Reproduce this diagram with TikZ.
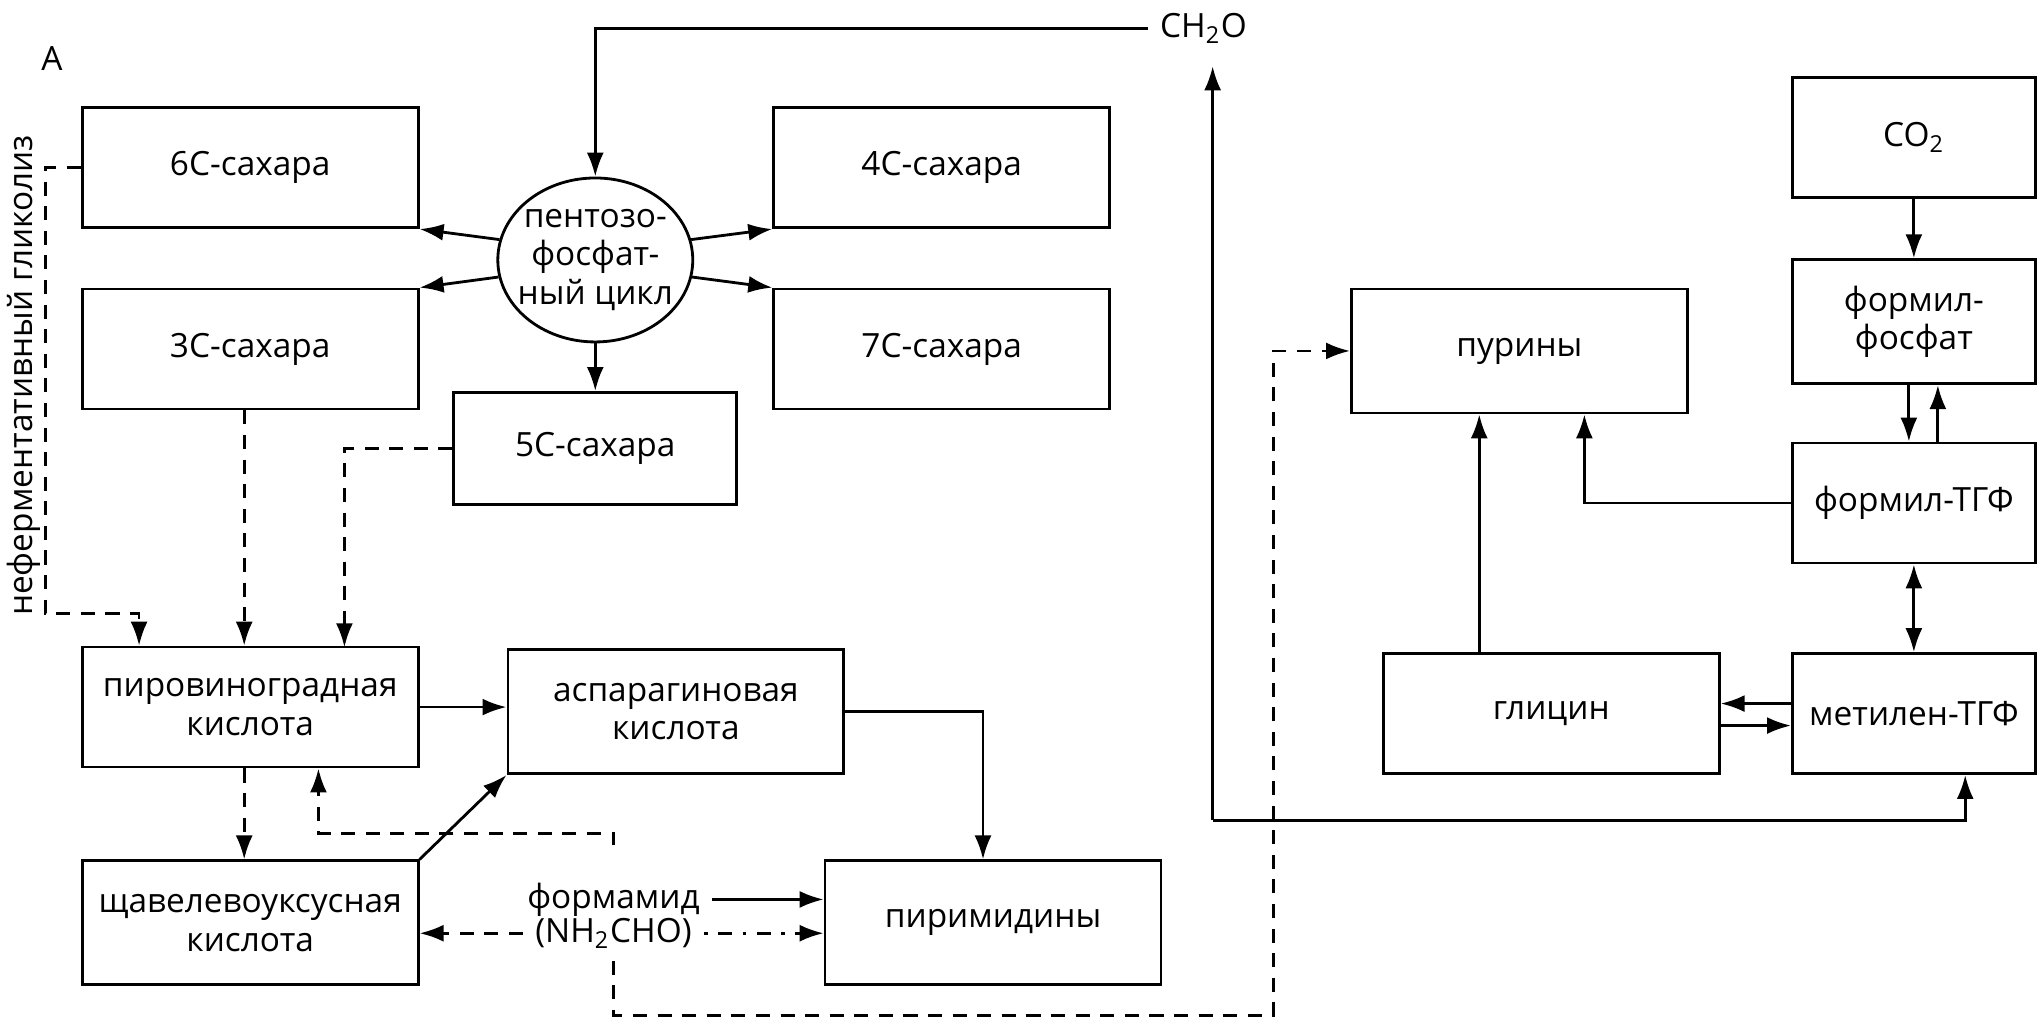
\documentclass[tikz,border=0pt]{standalone}
\usepackage{fontspec}
\setmainfont{Open Sans}
\usetikzlibrary{arrows.meta,shapes.geometric}
\begin{document}
\begin{tikzpicture}[x=0.013cm,y=-0.013cm,font=\fontsize{9.5}{11}\selectfont,
  box/.style={draw,line width=0.8pt,minimum width=3.36cm,minimum height=1.2cm,align=center,inner sep=1pt},
  sbox/.style={box,minimum width=2.43cm},
  arr/.style={-{Latex[length=2.4mm,width=1.7mm]},line width=0.8pt},
  darr/.style={arr,dash pattern=on 4pt off 3pt},
  ddarr/.style={arr,dash pattern=on 1pt off 3pt on 4pt off 3pt}]
\useasboundingbox (0,0) rectangle (1568,786);
\node at (40,45) {А};
\node (ch2o) at (926,22) {CH\textsubscript{2}O};
\node[rotate=90] (glyc) at (18,289) {неферментативный гликолиз};
\node[box] (six) at (192.5,129) {6С-сахара};
\node[box] (three) at (192.5,268.5) {3С-сахара};
\node[box] (four) at (724.5,129) {4С-сахара};
\node[box] (seven) at (724.5,268.5) {7С-сахара};
\node[box,minimum width=2.83cm,minimum height=1.12cm] (five) at (458,345) {5С-сахара};
\node[draw,ellipse,line width=0.8pt,minimum width=1.95cm,minimum height=1.64cm,inner sep=0pt] (cyc) at (458,200) {};
\node[align=center,inner sep=0pt] (cyctxt) at (cyc) {пентозо-\\фосфат-\\ный цикл};
\node[box] (pyr) at (192.5,544) {пировиноградная\\кислота};
\node[box,minimum height=1.24cm] (asp) at (520,547.5) {аспарагиновая\\кислота};
\node[box,minimum height=1.24cm] (oxa) at (192.5,710) {щавелевоуксусная\\кислота};
\node[box,minimum height=1.24cm] (pyrim) at (764,710) {пиримидины};
\node (form) at (472,692) {формамид};
\node (nh) at (472,718) {(NH\textsubscript{2}CHO)};
\node[box,minimum height=1.24cm] (pur) at (1169,270) {пурины};
\node[box] (gly) at (1193.5,549) {глицин};
\node[sbox] (co2) at (1472.5,106) {CO\textsubscript{2}};
\node[sbox,minimum height=1.24cm] (fphos) at (1472.5,247.5) {формил-\\фосфат};
\node[sbox] (fthf) at (1472.5,387) {формил-ТГФ};
\node[sbox] (mthf) at (1472.5,549) {метилен-ТГФ};
\coordinate (loop) at (933,631);
\coordinate (up) at (933,51);
\coordinate (m1) at (1512,631);
\coordinate (c6) at (107,472);
\coordinate (c5) at (265,498);
\coordinate (f1) at (245,641);
\coordinate (g1) at (980,781);
\draw[arr] (ch2o.west) -| (cyc.north);
\draw[arr] (loop) -- (up);
\draw[arr] (loop) -- (m1) -- (m1 |- mthf.south);
\draw[arr] (cyc.168) -- (six.south east);
\draw[arr] (cyc.190) -- (three.north east);
\draw[arr] (cyc.12) -- (four.south west);
\draw[arr] (cyc.350) -- (seven.north west);
\draw[arr] (cyc.south) -- (five.north);
\draw[darr] (six.west) -| (35,472) -- (c6) -- (c6 |- pyr.north);
\draw[darr] ([xshift=-0.06cm]three.south) -- ([xshift=-0.06cm]pyr.north);
\draw[darr] (five.west) -| (c5);
\draw[arr] (pyr.east) -- (pyr.east -| asp.west);
\draw[darr] ([xshift=-0.06cm]pyr.south) -- ([xshift=-0.06cm]oxa.north);
\draw[arr] (oxa.north east) -- (asp.south west);
\draw[darr] ([yshift=0.25cm]form.north) |- (f1) -- (f1 |- pyr.south);
\draw[arr] (form.east) -- (form.east -| pyrim.west);
\draw[darr] (nh.west) -- (nh.west -| oxa.east);
\draw[ddarr] (nh.east) -- (nh.east -| pyrim.west);
\draw[darr] (nh.south) |- (g1) |- (pur.west);
\draw[arr] (asp.east) -| ([xshift=-0.1cm]pyrim.north);
\draw[arr] (co2.south) -- (fphos.north);
\draw[arr] ([xshift=-0.05cm]fphos.south) -- ([xshift=-0.05cm]fthf.north);
\draw[arr] ([xshift=0.24cm]fthf.north) -- ([xshift=0.24cm]fphos.south);
\draw[{Latex[length=2.4mm,width=1.7mm]}-{Latex[length=2.4mm,width=1.7mm]},line width=0.8pt] (fthf.south) -- (mthf.north);
\draw[arr] (fthf.west) -| ([xshift=0.65cm]pur.south);
\draw[arr] ([xshift=-0.72cm]gly.north) -- ([xshift=-0.72cm]gly.north |- pur.south);
\draw[arr] ([yshift=0.1cm]mthf.west) -- ([yshift=0.1cm]gly.east);
\draw[arr] ([yshift=-0.12cm]gly.east) -- ([yshift=-0.12cm]mthf.west);
\end{tikzpicture}
\end{document}
